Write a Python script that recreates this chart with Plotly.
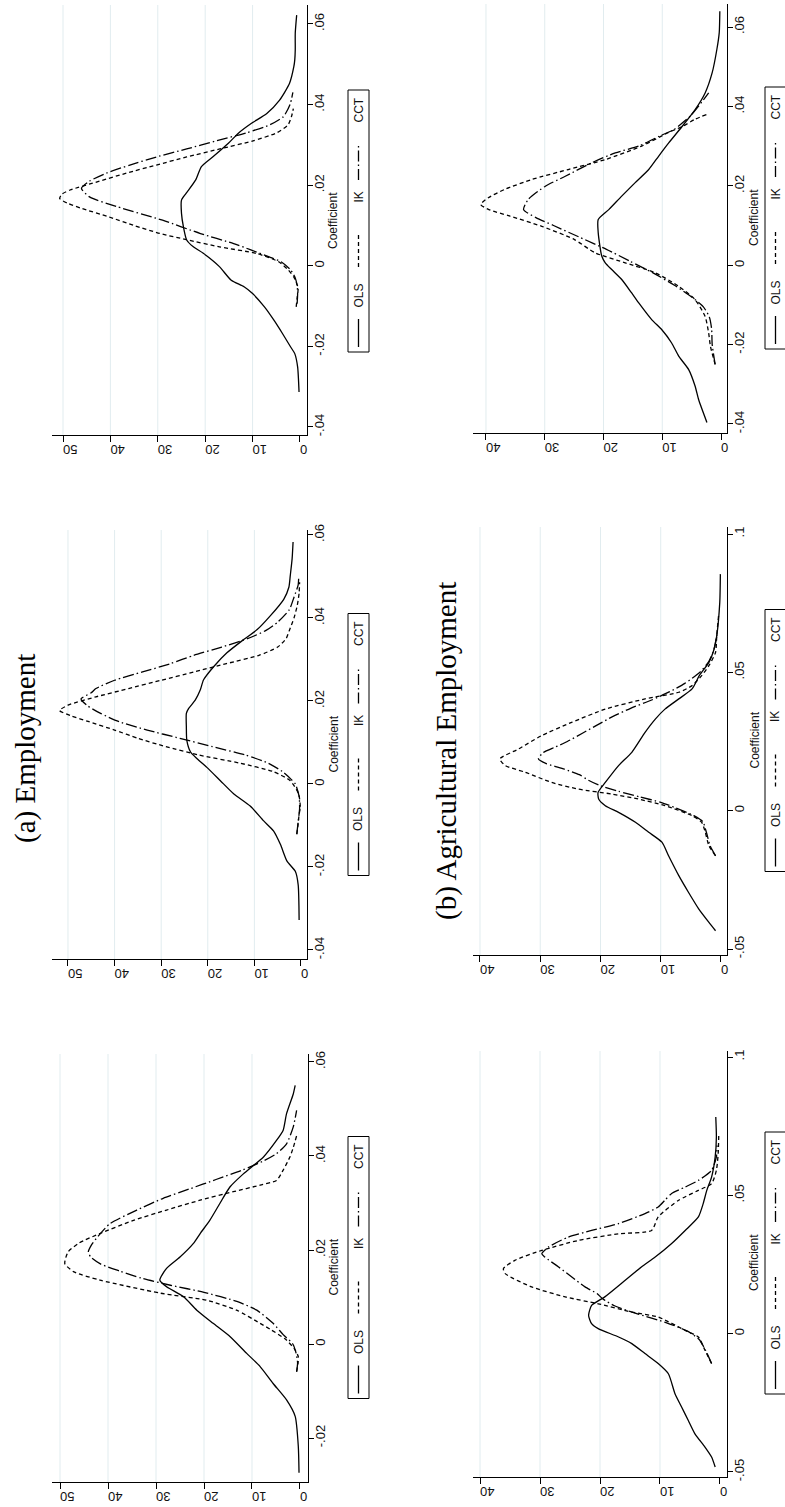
import plotly.graph_objects as go

W, H = 785, 1507

# ---------------- kernel densities of the estimated coefficient ----------------
# (a) Employment, specification 1
EMP1_OLS_COEF = [-.0274, -.0218, -.0154, -.0119, -.0084, -.0048, -.002, .0016, .0044, .0072, .0101, .0122,
                 .0136, .0161, .0185, .0214, .0235, .0263, .0299, .0334, .0362, .0398, .0433, .0455, .049,
                 .0532, .055]
EMP1_OLS_DENS = [0.2, 0.35, 1.0, 2.8, 5.6, 8.3, 11.1, 14.6, 18.1, 21.5, 24.3, 27.8, 29.2, 27.8, 25.0, 22.2,
                 20.8, 18.8, 16.7, 14.6, 11.8, 7.6, 4.9, 3.5, 2.8, 1.4, 1.0]
EMP1_IK_COEF = [-.0059, -.004, -.0027, -.001, .001, .003, .0044, .0072, .0093, .0108, .0136, .0154, .0171,
                .0196, .0215, .0235, .0263, .0285, .0306, .0324, .0338, .0348, .037, .0398, .0418, .0443]
EMP1_IK_DENS = [0.7, 0.4, 0.35, 1.2, 3.0, 6.0, 8.3, 13.2, 19.4, 29.0, 41.7, 47.2, 49.0, 48.3, 46.0, 41.7,
                34.7, 27.8, 20.8, 13.9, 8.3, 4.9, 3.5, 2.1, 1.4, 0.7]
EMP1_CCT_COEF = [-.0059, -.004, -.002, 0.0, .002, .0044, .0072, .009, .011, .0125, .014, .0155, .017, .0185,
                 .0196, .021, .023, .0256, .0285, .031, .033, .035, .037, .039, .0405, .0426, .0462, .0497]
EMP1_CCT_DENS = [0.7, 0.5, 0.8, 1.5, 3.5, 5.6, 9.0, 13.0, 20.0, 27.0, 33.0, 37.5, 41.5, 43.6, 44.1, 43.5,
                 42.0, 39.6, 34.0, 28.5, 23.0, 17.5, 12.0, 7.5, 4.9, 2.8, 1.4, 0.7]

# (a) Employment, specification 2
EMP2_OLS_COEF = [-.0328, -.0243, -.0211, -.0186, -.0146, -.0113, -.0089, -.0053, -.0024, .0008, .004, .0061,
                 .0077, .0105, .0138, .017, .0182, .0202, .0227, .0251, .0283, .0316, .0348, .0372, .0405,
                 .0445, .0474, .0502, .0543, .0583]
EMP2_OLS_DENS = [0.4, 0.6, 1.2, 3.0, 4.4, 5.9, 8.0, 10.9, 14.4, 17.3, 20.2, 22.3, 23.7, 24.5, 24.6, 24.6,
                 24.1, 22.7, 21.6, 20.9, 18.7, 15.9, 12.3, 9.4, 6.6, 3.7, 2.6, 2.3, 1.9, 1.7]
EMP2_IK_COEF = [-.0121, -.0095, -.0073, -.0057, -.0024, .0008, .003, .005, .007, .009, .011, .013, .015,
                .0165, .0177, .019, .021, .023, .025, .027, .029, .031, .033, .035, .037, .040, .043, .046,
                .0486]
EMP2_IK_DENS = [0.9, 0.6, 0.4, 0.15, 0.5, 2.3, 6.0, 13.0, 22.0, 29.0, 35.0, 40.0, 45.5, 49.5, 51.8, 50.0,
                44.0, 37.0, 30.0, 23.0, 16.0, 9.0, 5.0, 3.2, 2.5, 1.5, 0.8, 0.4, 0.3]
EMP2_CCT_COEF = [-.0121, -.009, -.006, -.003, 0.0, .001, .003, .005, .007, .009, .011, .013, .015, .017,
                 .019, .0205, .022, .023, .025, .027, .029, .031, .033, .035, .037, .039, .042, .045, .048,
                 .0495]
EMP2_CCT_DENS = [0.9, 0.6, 0.3, 0.4, 1.2, 2.0, 4.0, 7.0, 12.0, 19.0, 26.0, 33.0, 39.0, 43.0, 46.0, 47.2,
                 45.0, 44.0, 40.0, 34.0, 28.0, 23.0, 17.0, 11.5, 7.5, 5.0, 2.5, 1.5, 0.6, 0.5]

# (a) Employment, specification 3
EMP3_OLS_COEF = [-.0313, -.0251, -.0218, -.0201, -.0168, -.0135, -.0102, -.0069, -.0052, -.0036, -.0002,
                 .0031, .0047, .0064, .0097, .013, .0163, .018, .0213, .0246, .0271, .0304, .0329, .0353,
                 .0378, .0411, .0453, .0494, .0511, .0536, .0577, .0622]
EMP3_OLS_DENS = [0.2, 0.5, 1.1, 2.0, 3.7, 5.5, 7.5, 10.0, 11.8, 14.5, 17.0, 20.4, 22.5, 23.9, 24.6, 25.0,
                 25.0, 24.0, 22.0, 20.8, 18.3, 15.1, 13.0, 10.3, 7.0, 4.3, 2.2, 1.3, 1.1, 1.0, 1.0, 0.7]
EMP3_IK_COEF = [-.0102, -.008, -.0055, -.003, -.001, .001, .003, .0047, .0065, .008, .010, .0122, .0142,
                .0155, .0167, .0178, .0188, .021, .023, .025, .027, .029, .031, .033, .035, .037, .039]
EMP3_IK_DENS = [0.8, 0.6, 0.4, 1.2, 2.5, 4.5, 9.0, 17.0, 24.0, 29.5, 35.0, 40.5, 46.0, 49.0, 50.7, 50.2,
                48.5, 42.3, 36.6, 30.3, 23.9, 16.9, 9.9, 4.9, 2.5, 1.8, 1.4]
EMP3_CCT_COEF = [-.0094, -.007, -.005, -.003, -.001, .001, .0022, .004, .0055, .008, .0113, .0147, .0171,
                 .0192, .021, .023, .025, .027, .029, .031, .033, .035, .037, .040, .043]
EMP3_CCT_DENS = [0.6, 0.5, 0.6, 1.0, 2.0, 4.0, 6.5, 10.5, 14.0, 21.0, 29.0, 38.7, 44.4, 46.1, 44.4, 40.8,
                 35.9, 30.3, 23.9, 17.6, 11.3, 6.3, 3.5, 2.1, 1.5]

# (b) Agricultural Employment, specification 1
AGR1_OLS_COEF = [-.0482, -.0446, -.041, -.0361, -.0313, -.0265, -.0217, -.0145, -.0108, -.0072, -.0036,
                 -.0012, .0018, .0036, .0066, .0102, .0133, .0193, .0241, .0277, .0325, .0373, .0422, .047,
                 .0518, .0566, .0639, .0711, .0783]
AGR1_OLS_DENS = [0.8, 1.4, 2.5, 4.2, 5.3, 6.4, 7.5, 8.6, 10.3, 12.5, 14.7, 16.9, 20.3, 21.4, 21.9, 21.4,
                 19.2, 15.8, 13.1, 10.8, 8.1, 5.8, 3.6, 2.8, 2.2, 1.4, 0.8, 0.6, 0.7]
AGR1_IK_COEF = [-.0108, -.006, -.0012, .0012, .006, .0078, .0108, .0133, .0169, .0217, .0235, .0265, .0301,
                .0337, .0361, .0373, .0422, .0482, .0518, .0542, .059, .0651, .0723]
AGR1_IK_DENS = [1.4, 2.5, 3.6, 5.8, 10.3, 14.7, 20.3, 25.8, 31.4, 35.8, 36.1, 34.2, 29.7, 23.6, 16.9, 11.4,
                10.3, 6.9, 3.6, 1.4, 0.6, 0.3, 0.2]
AGR1_CCT_COEF = [-.0108, -.006, -.002, .001, .004, .007, .010, .0125, .0145, .0169, .0205, .0241, .0277,
                 .0289, .0313, .0349, .0373, .0398, .0434, .0458, .0482, .0506, .053, .0554, .059, .0639, .068]
AGR1_CCT_DENS = [1.4, 2.4, 3.5, 5.5, 9.0, 13.5, 17.5, 19.5, 20.5, 22.5, 24.7, 26.9, 29.2, 29.7, 28.6, 25.3,
                 21.4, 16.9, 12.5, 10.3, 9.2, 8.1, 5.8, 3.6, 1.4, 0.6, 0.5]

# (b) Agricultural Employment, specification 2
AGR2_OLS_COEF = [-.0434, -.0404, -.0355, -.0295, -.0235, -.0163, -.0114, -.0078, -.0042, -.0006, .0018,
                 .0042, .0066, .0102, .0163, .0211, .0283, .0331, .0367, .0404, .044, .0488, .0536, .058,
                 .0633, .0753, .0855]
AGR2_OLS_DENS = [0.9, 2.0, 3.7, 5.4, 7.0, 8.7, 9.8, 12.0, 14.2, 17.0, 19.2, 20.3, 20.4, 19.2, 17.0, 14.8,
                 12.6, 10.9, 9.3, 7.0, 4.8, 3.6, 2.0, 1.2, 0.7, 0.2, 0.1]
AGR2_IK_COEF = [-.0163, -.0127, -.0078, -.0042, -.0018, .0018, .0042, .006, .0078, .0102, .0139, .0163,
                .0187, .0223, .0271, .0319, .0367, .0404, .0428, .0452, .0488, .0524, .0572, .0633, .0705]
AGR2_IK_DENS = [0.9, 2.0, 2.6, 3.2, 4.8, 9.3, 13.7, 18.1, 23.7, 28.1, 32.5, 35.8, 36.7, 33.6, 29.8, 24.8,
                19.2, 12.6, 7.0, 4.8, 3.2, 2.0, 0.9, 0.7, 0.4]
AGR2_CCT_COEF = [-.0163, -.0127, -.008, -.004, -.0018, .001, .003, .005, .007, .009, .011, .013, .015, .017,
                 .0187, .021, .023, .025, .028, .031, .034, .037, .040, .043, .046, .050, .054, .058, .0645]
AGR2_CCT_DENS = [0.9, 1.8, 2.4, 3.0, 4.5, 7.5, 10.0, 13.5, 17.0, 20.0, 22.0, 23.5, 26.0, 29.0, 30.3, 29.5,
                 27.5, 25.5, 23.0, 20.5, 18.0, 15.0, 11.5, 8.5, 6.0, 3.5, 2.0, 1.2, 0.6]

# (b) Agricultural Employment, specification 3
AGR3_OLS_COEF = [-.0396, -.0339, -.0305, -.0263, -.0229, -.0196, -.0162, -.0137, -.0095, -.007, -.0036,
                 -.0011, .0006, .0023, .0082, .0115, .014, .0174, .0208, .0241, .0275, .0308, .035, .0392,
                 .0434, .0485, .0544, .0586, .064]
AGR3_OLS_DENS = [2.4, 3.8, 4.4, 5.5, 7.2, 8.4, 10.1, 11.8, 14.0, 15.2, 16.9, 18.6, 19.7, 20.3, 20.9, 20.9,
                 19.1, 16.9, 14.6, 12.3, 10.6, 8.9, 6.6, 4.4, 2.7, 1.5, 0.7, 0.3, 0.2]
AGR3_IK_COEF = [-.025, -.0204, -.0171, -.0129, -.0087, -.0053, -.0019, .0006, .0031, .0065, .0098, .0124,
                .014, .0153, .017, .0191, .0216, .0241, .0266, .030, .0334, .035, .0367, .038]
AGR3_IK_DENS = [1.0, 1.8, 2.1, 2.7, 4.4, 7.2, 11.2, 16.3, 21.4, 25.0, 30.5, 36.0, 39.5, 40.9, 39.6, 36.8,
                32.2, 26.0, 19.7, 13.5, 9.0, 6.5, 4.5, 2.4]
AGR3_CCT_COEF = [-.025, -.02, -.016, -.013, -.0105, -.008, -.005, -.002, .001, .004, .007, .010, .012, .014,
                 .0166, .0199, .0224, .0258, .0283, .030, .0325, .0342, .0376, .0401, .0434]
AGR3_CCT_DENS = [1.0, 1.5, 1.6, 2.0, 3.0, 5.0, 8.0, 11.5, 15.5, 19.5, 24.0, 28.5, 31.5, 33.6, 32.8, 29.9,
                 26.5, 22.0, 18.0, 14.0, 10.5, 8.0, 5.2, 3.8, 2.1]

SERIES = ["OLS", "IK", "CCT"]
DATA = {
    "emp1": [(EMP1_OLS_DENS, EMP1_OLS_COEF), (EMP1_IK_DENS, EMP1_IK_COEF), (EMP1_CCT_DENS, EMP1_CCT_COEF)],
    "emp2": [(EMP2_OLS_DENS, EMP2_OLS_COEF), (EMP2_IK_DENS, EMP2_IK_COEF), (EMP2_CCT_DENS, EMP2_CCT_COEF)],
    "emp3": [(EMP3_OLS_DENS, EMP3_OLS_COEF), (EMP3_IK_DENS, EMP3_IK_COEF), (EMP3_CCT_DENS, EMP3_CCT_COEF)],
    "agr1": [(AGR1_OLS_DENS, AGR1_OLS_COEF), (AGR1_IK_DENS, AGR1_IK_COEF), (AGR1_CCT_DENS, AGR1_CCT_COEF)],
    "agr2": [(AGR2_OLS_DENS, AGR2_OLS_COEF), (AGR2_IK_DENS, AGR2_IK_COEF), (AGR2_CCT_DENS, AGR2_CCT_COEF)],
    "agr3": [(AGR3_OLS_DENS, AGR3_OLS_COEF), (AGR3_IK_DENS, AGR3_IK_COEF), (AGR3_CCT_DENS, AGR3_CCT_COEF)],
}

# axis ticks
DENS_TICKS_EMP = [0, 10, 20, 30, 40, 50]
DENS_TICKS_AGR = [0, 10, 20, 30, 40]
COEF_TICKS_WIDE = [-0.04, -0.02, 0, 0.02, 0.04, 0.06]
COEF_LABELS_WIDE = ["-.04", "-.02", "0", ".02", ".04", ".06"]
COEF_TICKS_NARROW = [-0.02, 0, 0.02, 0.04, 0.06]
COEF_LABELS_NARROW = ["-.02", "0", ".02", ".04", ".06"]
COEF_TICKS_AGR = [-0.05, 0, 0.05, 0.1]
COEF_LABELS_AGR = ["-.05", "0", ".05", ".1"]

PANEL_TITLES = ["(a) Employment", "(b) Agricultural Employment"]
AXIS_TITLE = "Coefficient"

# ---------------- page layout (the whole page is turned a quarter turn) ----------------
# box = (left, right, top, bottom) of each plot region in pixels
PANELS = [
    dict(key="emp3", box=(52, 307, 5, 435), drange=(52.32, -1.48), crange=(-0.04199, 0.06471),
         dticks=DENS_TICKS_EMP, cticks=COEF_TICKS_WIDE, clabels=COEF_LABELS_WIDE, mid=221, col=0),
    dict(key="emp2", box=(52, 307, 530, 959), drange=(53.43, -1.29), crange=(-0.04217, 0.0612),
         dticks=DENS_TICKS_EMP, cticks=COEF_TICKS_WIDE, clabels=COEF_LABELS_WIDE, mid=744.5, col=0),
    dict(key="emp1", box=(52, 308, 1054, 1482), drange=(51.67, -1.67), crange=(-0.02936, 0.0617),
         dticks=DENS_TICKS_EMP, cticks=COEF_TICKS_NARROW, clabels=COEF_LABELS_NARROW, mid=1267.5, col=0),
    dict(key="agr3", box=(473, 727, 4, 433), drange=(42.21, -1.02), crange=(-0.04227, 0.0658),
         dticks=DENS_TICKS_AGR, cticks=COEF_TICKS_WIDE, clabels=COEF_LABELS_WIDE, mid=218, col=1),
    dict(key="agr2", box=(473, 727, 527, 955), drange=(41.16, -1.0), crange=(-0.05217, 0.10253),
         dticks=DENS_TICKS_AGR, cticks=COEF_TICKS_AGR, clabels=COEF_LABELS_AGR, mid=740.5, col=1),
    dict(key="agr1", box=(473, 727, 1051, 1477), drange=(41.17, -1.17), crange=(-0.05181, 0.10217),
         dticks=DENS_TICKS_AGR, cticks=COEF_TICKS_AGR, clabels=COEF_LABELS_AGR, mid=1263, col=1),
]
LEGEND_LEFT = [348, 765]
TITLE_X = [333, 754]

LINE_STYLES = {
    "OLS": dict(color="black", width=1.3, dash="solid"),
    "IK": dict(color="black", width=1.3, dash="4px,3px"),
    "CCT": dict(color="black", width=1.3, dash="11px,3px,1.5px,3px"),
}
GRID_COLOR = "#E1ECEF"
SANS = "Liberation Sans, Arial, sans-serif"
SERIF = "Liberation Serif, Times New Roman, serif"


def px_x(v):
    return v / W


def px_y(v):
    return 1 - v / H


fig = go.Figure()
shapes, annotations = [], []
layout = {}

for i, p in enumerate(PANELS, start=1):
    sfx = "" if i == 1 else str(i)
    xa, ya = f"x{sfx}", f"y{sfx}"
    left, right, top, bottom = p["box"]

    for name, (dens, coef) in zip(SERIES, DATA[p["key"]]):
        fig.add_trace(go.Scatter(
            x=dens, y=coef, xaxis=xa, yaxis=ya, mode="lines", name=name,
            line=dict(shape="spline", smoothing=0.6, **LINE_STYLES[name]),
            showlegend=False, hoverinfo="skip"))

    layout[f"xaxis{sfx}"] = dict(
        domain=[px_x(left), px_x(right)], anchor=ya, range=list(p["drange"]),
        showline=True, linecolor="black", linewidth=1, mirror=False,
        ticks="outside", ticklen=6, tickwidth=1, tickcolor="black",
        tickvals=p["dticks"], ticktext=[str(t) for t in p["dticks"]], tickangle=180,
        tickfont=dict(family=SANS, size=13, color="#111"),
        showgrid=False, zeroline=False, automargin=False, fixedrange=True)
    layout[f"yaxis{sfx}"] = dict(
        domain=[px_y(bottom), px_y(top)], anchor=xa, side="right", range=list(p["crange"]),
        showline=True, linecolor="black", linewidth=1, mirror=False,
        ticks="outside", ticklen=5, tickwidth=1, tickcolor="black",
        tickvals=p["cticks"], ticktext=p["clabels"], tickangle=-90, ticklabelstandoff=-5,
        tickfont=dict(family=SANS, size=13, color="#111"),
        showgrid=False, zeroline=False, automargin=False, fixedrange=True)

    # grid lines at every labelled density tick except the axis itself
    for v in p["dticks"][1:]:
        shapes.append(dict(type="line", xref=xa, yref=f"{ya} domain", x0=v, x1=v, y0=0, y1=1,
                           line=dict(color=GRID_COLOR, width=1), layer="below"))

    # axis title
    annotations.append(dict(text=AXIS_TITLE, xref="paper", yref="paper", x=px_x(TITLE_X[p["col"]]),
                            y=px_y(p["mid"]), xanchor="center", yanchor="middle", textangle=-90,
                            showarrow=False, font=dict(family=SANS, size=12, color="#111")))

    # legend box with keys
    lx0 = LEGEND_LEFT[p["col"]]
    lx1 = lx0 + 21
    lxc = (lx0 + lx1) / 2
    base = p["mid"] + 131
    shapes.append(dict(type="rect", xref="paper", yref="paper", x0=px_x(lx0), x1=px_x(lx1),
                       y0=px_y(base), y1=px_y(base - 262), line=dict(color="black", width=1),
                       fillcolor="white", layer="above"))
    key_spans = {"OLS": (5, 33), "IK": (85, 118), "CCT": (172, 208)}
    label_pos = {"OLS": 56, "IK": 155, "CCT": 242}
    for name in SERIES:
        a, b = key_spans[name]
        st = LINE_STYLES[name]
        shapes.append(dict(type="line", xref="paper", yref="paper", x0=px_x(lxc), x1=px_x(lxc),
                           y0=px_y(base - a), y1=px_y(base - b),
                           line=dict(color="black", width=st["width"], dash=st["dash"]), layer="above"))
        annotations.append(dict(text=name, xref="paper", yref="paper", x=px_x(lxc), y=px_y(base - label_pos[name]),
                                xanchor="center", yanchor="middle", textangle=-90, showarrow=False,
                                font=dict(family=SANS, size=12, color="#111")))

# row titles
annotations.append(dict(text=PANEL_TITLES[0], xref="paper", yref="paper", x=px_x(25), y=px_y(749),
                        xanchor="center", yanchor="middle", textangle=-90, showarrow=False,
                        font=dict(family=SERIF, size=29, color="black")))
annotations.append(dict(text=PANEL_TITLES[1], xref="paper", yref="paper", x=px_x(446), y=px_y(751),
                        xanchor="center", yanchor="middle", textangle=-90, showarrow=False,
                        font=dict(family=SERIF, size=29, color="black")))

fig.update_layout(
    width=W, height=H, margin=dict(l=0, r=0, t=0, b=0),
    paper_bgcolor="white", plot_bgcolor="white",
    shapes=shapes, annotations=annotations, **layout)

fig.write_html("out.html")
